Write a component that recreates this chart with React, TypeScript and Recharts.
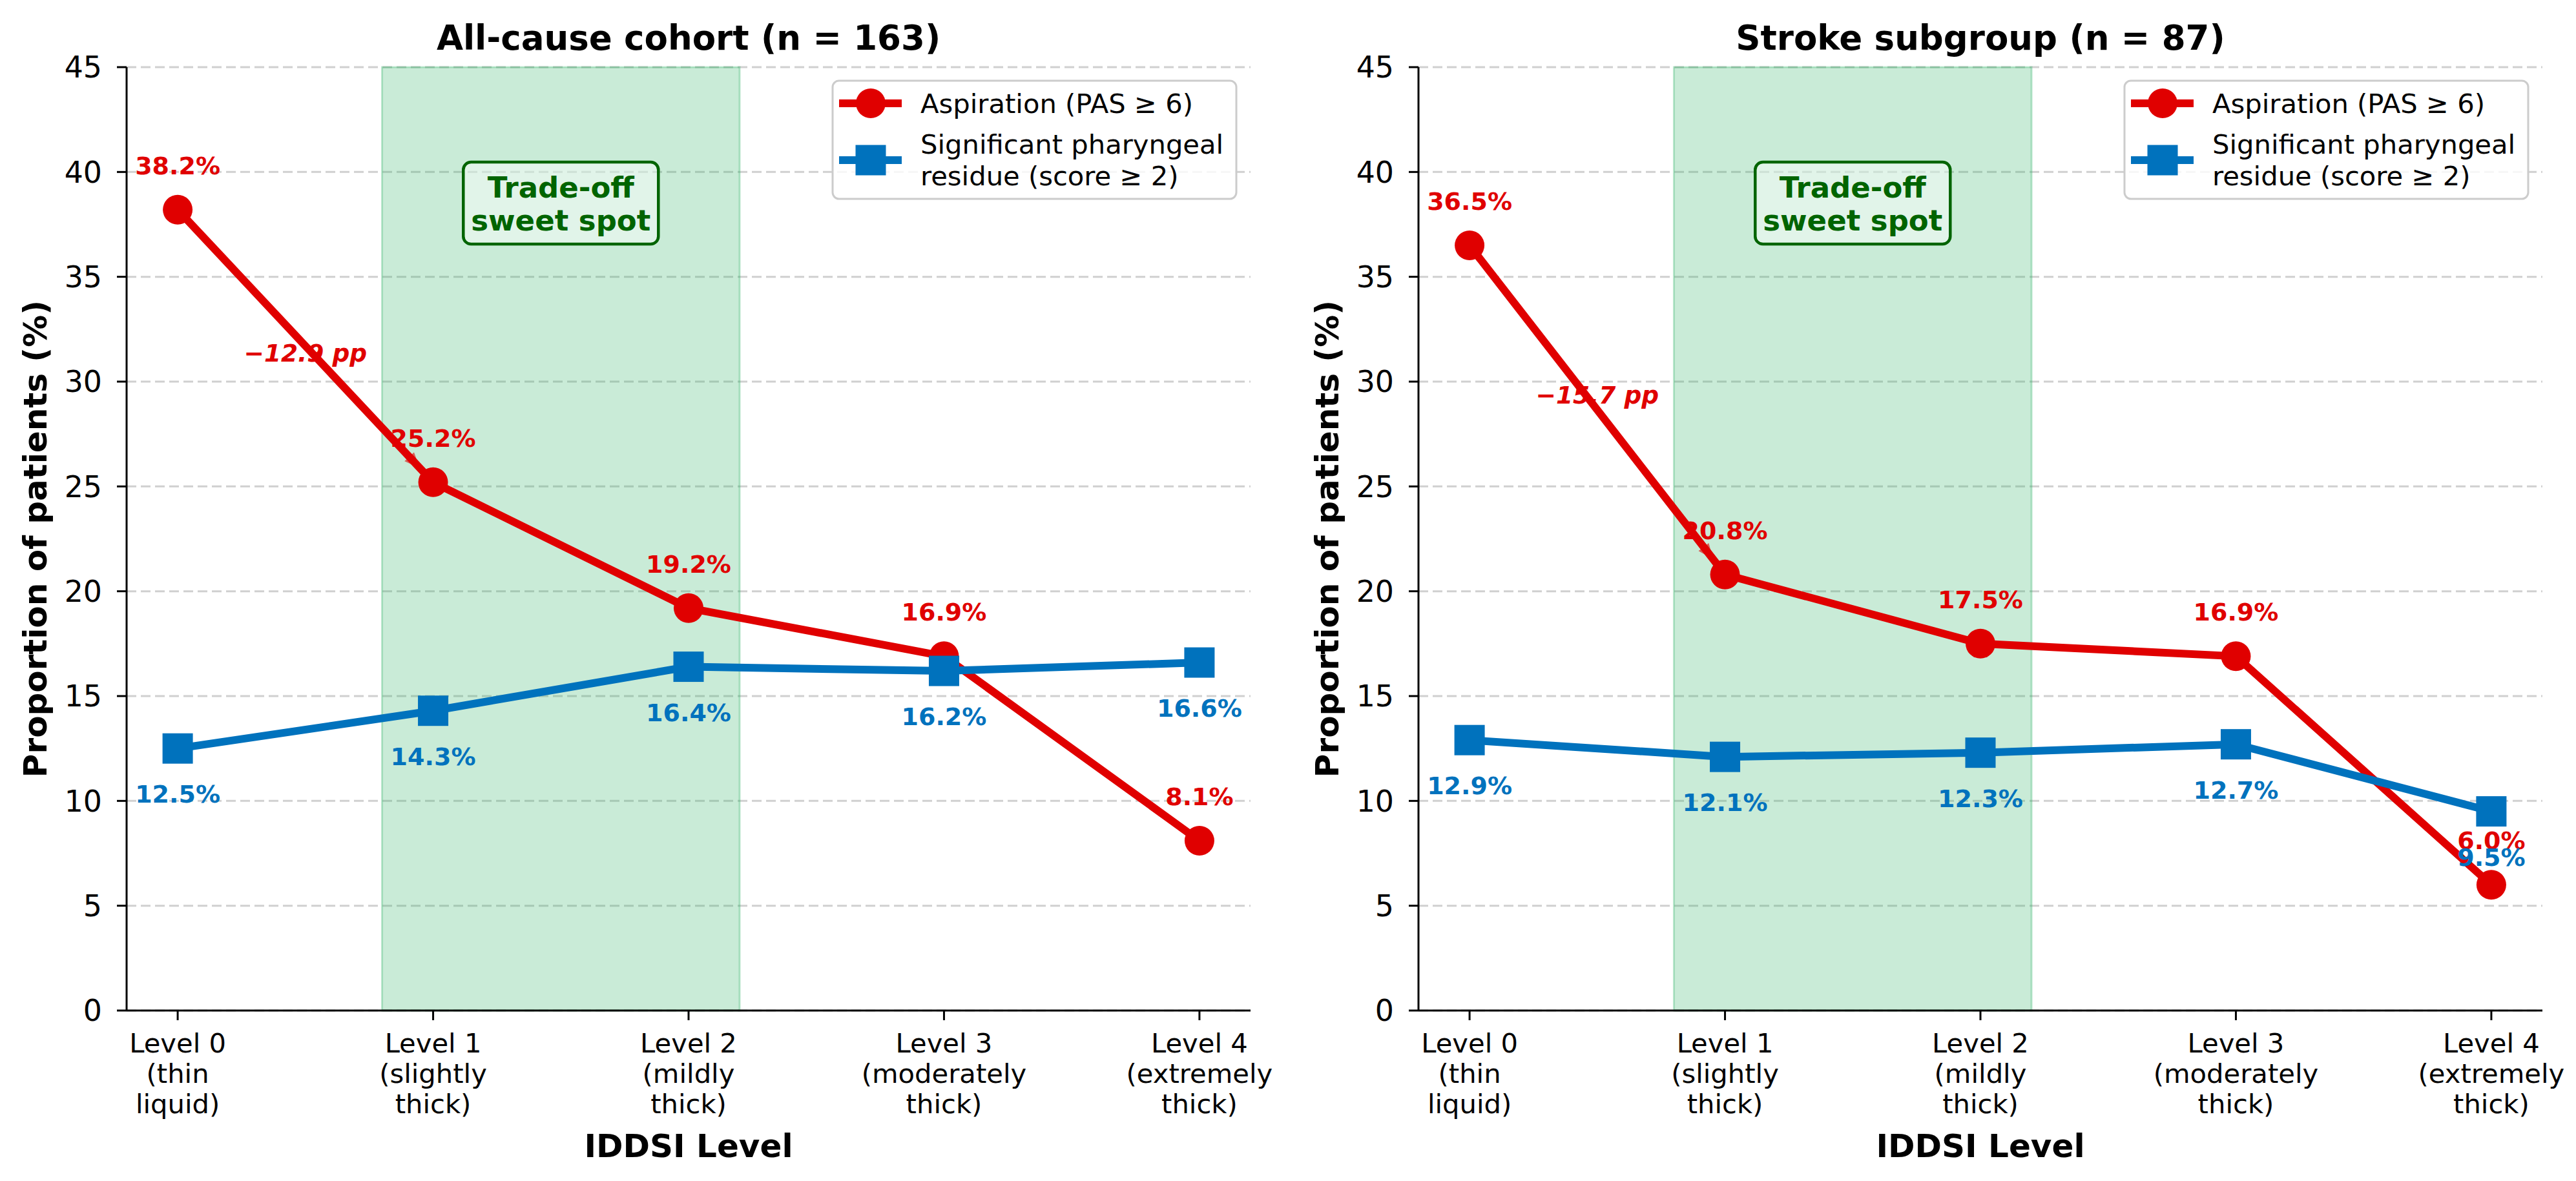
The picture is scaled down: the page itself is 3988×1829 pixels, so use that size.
import React from "react";
import {
  LineChart,
  Line,
  XAxis,
  YAxis,
  CartesianGrid,
  ReferenceArea,
  ReferenceDot,
  ReferenceLine,
  LabelList,
} from "recharts";

const FONT = '"DejaVu Sans", Verdana, sans-serif';
const RED = "#e00000";
const BLUE = "#0072bd";
const DARK_GREEN = "#006400";

// IDDSI levels (x positions) and their tick labels
const levels = [0, 1, 2, 3, 4];
const levelLabels = [
  ["Level 0", "(thin", "liquid)"],
  ["Level 1", "(slightly", "thick)"],
  ["Level 2", "(mildly", "thick)"],
  ["Level 3", "(moderately", "thick)"],
  ["Level 4", "(extremely", "thick)"],
];
const yTicks = [0, 5, 10, 15, 20, 25, 30, 35, 40, 45];
const seriesNames = ["Aspiration (PAS ≥ 6)", "Significant pharyngeal", "residue (score ≥ 2)"];

// All-cause cohort
const allAspiration = [38.2, 25.2, 19.2, 16.9, 8.1];
const allResidue = [12.5, 14.3, 16.4, 16.2, 16.6];

// Stroke subgroup
const strokeAspiration = [36.5, 20.8, 17.5, 16.9, 6.0];
const strokeResidue = [12.9, 12.1, 12.3, 12.7, 9.5];

const panels = [
  {
    title: "All-cause cohort (n = 163)",
    aspiration: allAspiration,
    residue: allResidue,
    dropText: "−12.9 pp",
    dropY: 31.35,
    left: 0,
  },
  {
    title: "Stroke subgroup (n = 87)",
    aspiration: strokeAspiration,
    residue: strokeResidue,
    dropText: "−15.7 pp",
    dropY: 29.35,
    left: 2000,
  },
];

const W = 1988;
const H = 1829;
const MARGIN = { top: 104, right: 52, bottom: 84, left: 76 };
const Y_AXIS_W = 120;
const X_AXIS_H = 180;
const PLOT_LEFT = MARGIN.left + Y_AXIS_W;
const PLOT_RIGHT = W - MARGIN.right;
const PLOT_BOTTOM = H - MARGIN.bottom - X_AXIS_H;
const PLOT_CX = (PLOT_LEFT + PLOT_RIGHT) / 2;

const XTick = (props: any) => {
  const { x, y, payload } = props;
  const lines = levelLabels[payload.value] || [];
  return (
    <text x={x} y={y} textAnchor="middle" fontFamily={FONT} fontSize={41.7} fill="#000">
      {lines.map((l, i) => (
        <tspan key={i} x={x} dy={i === 0 ? 40 : 47}>
          {l}
        </tspan>
      ))}
    </text>
  );
};

const circleDot = (p: any) => (
  <circle key={`c-${p.index}`} cx={p.cx} cy={p.cy} r={23} fill={RED} />
);
const squareDot = (p: any) => (
  <rect key={`s-${p.index}`} x={p.cx - 23.5} y={p.cy - 23.5} width={47} height={47} fill={BLUE} />
);

const redLabel = (p: any) => (
  <text
    key={`rl-${p.index}`}
    x={p.x}
    y={p.y - 68}
    textAnchor="middle"
    dominantBaseline="central"
    fontFamily={FONT}
    fontWeight="bold"
    fontSize={38}
    fill={RED}
  >
    {Number(p.value).toFixed(1)}%
  </text>
);
const blueLabel = (p: any) => (
  <text
    key={`bl-${p.index}`}
    x={p.x}
    y={p.y + 71}
    textAnchor="middle"
    dominantBaseline="central"
    fontFamily={FONT}
    fontWeight="bold"
    fontSize={38}
    fill={BLUE}
  >
    {Number(p.value).toFixed(1)}%
  </text>
);

const arrowShape = (props: any) => {
  const { x1, y1, x2, y2 } = props;
  const dx = x2 - x1;
  const dy = y2 - y1;
  const len = Math.sqrt(dx * dx + dy * dy) || 1;
  const ux = dx / len;
  const uy = dy / len;
  const sx = x1 + ux * 30;
  const sy = y1 + uy * 30;
  const tx = x2 - ux * 30;
  const ty = y2 - uy * 30;
  const bx = tx - ux * 24;
  const by = ty - uy * 24;
  const hw = 10;
  return (
    <g opacity={0.6}>
      <line x1={sx} y1={sy} x2={bx} y2={by} stroke={RED} strokeWidth={5} />
      <polygon
        points={`${tx},${ty} ${bx - uy * hw},${by + ux * hw} ${bx + uy * hw},${by - ux * hw}`}
        fill={RED}
      />
    </g>
  );
};

const dropLabelShape = (text: string) => (props: any) => (
  <text
    x={props.cx}
    y={props.cy}
    textAnchor="middle"
    dominantBaseline="central"
    fontFamily={FONT}
    fontWeight="bold"
    fontStyle="italic"
    fontSize={37.5}
    fill={RED}
  >
    {text}
  </text>
);

const sweetSpotShape = (props: any) => {
  const { cx, cy } = props;
  return (
    <g>
      <rect
        x={cx - 151}
        y={cy - 64}
        width={302}
        height={127}
        rx={12}
        fill="#ffffff"
        fillOpacity={0.45}
        stroke={DARK_GREEN}
        strokeWidth={4.5}
      />
      <text
        x={cx}
        y={cy - 25}
        textAnchor="middle"
        dominantBaseline="central"
        fontFamily={FONT}
        fontWeight="bold"
        fontSize={45}
        fill={DARK_GREEN}
      >
        Trade-off
      </text>
      <text
        x={cx}
        y={cy + 26}
        textAnchor="middle"
        dominantBaseline="central"
        fontFamily={FONT}
        fontWeight="bold"
        fontSize={45}
        fill={DARK_GREEN}
      >
        sweet spot
      </text>
    </g>
  );
};

function Panel({ panel }: { panel: (typeof panels)[number] }) {
  const data = levels.map((lv, i) => ({
    x: lv,
    aspiration: panel.aspiration[i],
    residue: panel.residue[i],
  }));

  return (
    <div style={{ position: "absolute", left: panel.left, top: 0, width: W, height: H }}>
      <LineChart width={W} height={H} data={data} margin={MARGIN}>
        <CartesianGrid
          horizontal
          vertical={false}
          stroke="#d0d0d0"
          strokeWidth={3}
          strokeDasharray="15 7"
        />
        <ReferenceArea
          x1={0.8}
          x2={2.2}
          y1={0}
          y2={45}
          fill="#27ae60"
          fillOpacity={0.25}
          stroke="#27ae60"
          strokeOpacity={0.3}
          strokeWidth={3}
        />
        <XAxis
          dataKey="x"
          type="number"
          domain={[-0.2, 4.2]}
          ticks={levels}
          interval={0}
          height={X_AXIS_H}
          tick={<XTick />}
          tickSize={15}
          tickMargin={10}
          axisLine={{ stroke: "#000", strokeWidth: 3 }}
          tickLine={{ stroke: "#000", strokeWidth: 3 }}
        />
        <YAxis
          type="number"
          domain={[0, 45]}
          ticks={yTicks}
          width={Y_AXIS_W}
          tickSize={15}
          tickMargin={23}
          tick={{ fontSize: 45.8, fill: "#000", fontFamily: FONT }}
          axisLine={{ stroke: "#000", strokeWidth: 3 }}
          tickLine={{ stroke: "#000", strokeWidth: 3 }}
        />
        <Line
          type="linear"
          dataKey="aspiration"
          stroke={RED}
          strokeWidth={12}
          dot={circleDot}
          activeDot={false}
          isAnimationActive={false}
        >
          <LabelList dataKey="aspiration" content={redLabel} />
        </Line>
        <Line
          type="linear"
          dataKey="residue"
          stroke={BLUE}
          strokeWidth={12}
          dot={squareDot}
          activeDot={false}
          isAnimationActive={false}
        >
          <LabelList dataKey="residue" content={blueLabel} />
        </Line>
        <ReferenceLine
          segment={[
            { x: 0, y: panel.aspiration[0] },
            { x: 1, y: panel.aspiration[1] },
          ]}
          shape={arrowShape}
        />
        <ReferenceDot x={0.5} y={panel.dropY} r={1} shape={dropLabelShape(panel.dropText)} />
        <ReferenceDot x={1.5} y={38.5} r={1} shape={sweetSpotShape} />
      </LineChart>

      <svg
        width={W}
        height={H}
        style={{ position: "absolute", left: 0, top: 0, pointerEvents: "none" }}
      >
        <text
          x={PLOT_CX}
          y={77}
          textAnchor="middle"
          fontFamily={FONT}
          fontWeight="bold"
          fontSize={53}
          fill="#000"
        >
          {panel.title}
        </text>
        <text
          x={PLOT_CX}
          y={1792}
          textAnchor="middle"
          fontFamily={FONT}
          fontWeight="bold"
          fontSize={50}
          fill="#000"
        >
          IDDSI Level
        </text>
        <text
          x={55}
          y={(MARGIN.top + PLOT_BOTTOM) / 2}
          transform={`rotate(-90, 55, ${(MARGIN.top + PLOT_BOTTOM) / 2})`}
          textAnchor="middle"
          dominantBaseline="central"
          fontFamily={FONT}
          fontWeight="bold"
          fontSize={50}
          fill="#000"
        >
          Proportion of patients (%)
        </text>

        <g transform="translate(1289,125)" fontFamily={FONT} fontSize={41.7}>
          <rect
            x={0}
            y={0}
            width={625}
            height={183}
            rx={10}
            fill="#ffffff"
            fillOpacity={0.8}
            stroke="#cccccc"
            strokeWidth={3}
          />
          <line x1={10} x2={107} y1={35} y2={35} stroke={RED} strokeWidth={12} />
          <circle cx={59} cy={35} r={23} fill={RED} />
          <text x={136} y={35} dominantBaseline="central" fill="#000">
            {seriesNames[0]}
          </text>
          <line x1={10} x2={107} y1={123} y2={123} stroke={BLUE} strokeWidth={12} />
          <rect x={59 - 23.5} y={123 - 23.5} width={47} height={47} fill={BLUE} />
          <text x={136} y={98} dominantBaseline="central" fill="#000">
            {seriesNames[1]}
          </text>
          <text x={136} y={147} dominantBaseline="central" fill="#000">
            {seriesNames[2]}
          </text>
        </g>
      </svg>
    </div>
  );
}

export default function App() {
  return (
    <div
      style={{
        position: "absolute",
        left: 0,
        top: 0,
        width: 3988,
        height: 1829,
        background: "#ffffff",
        overflow: "hidden",
      }}
    >
      {panels.map((p) => (
        <Panel key={p.title} panel={p} />
      ))}
    </div>
  );
}
